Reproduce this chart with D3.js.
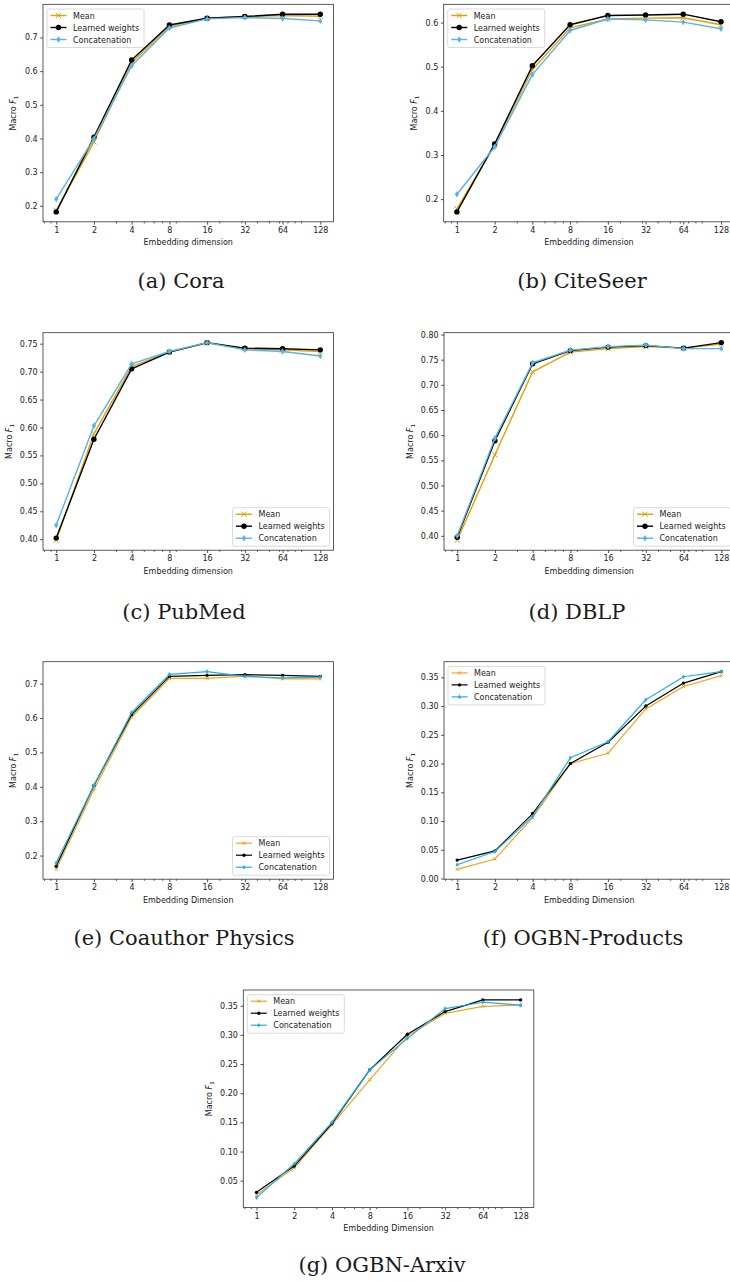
<!DOCTYPE html>
<html>
<head>
<meta charset="utf-8">
<script src="https://cdn.jsdelivr.net/npm/d3@7"></script>
<style>
  body { margin: 0; background: #fff; }
  svg { display: block; }
  .tick text { font-family: "DejaVu Sans", sans-serif; font-size: 8px; fill: #222; }
  .tick line { stroke: #222; stroke-width: 0.8; }
  .lbl { font-family: "DejaVu Sans", sans-serif; font-size: 8px; fill: #222; }
  .cap { font-family: "DejaVu Serif", serif; font-size: 21px; fill: #1a1a1a; }
</style>
</head>
<body>
<div id="fig"></div>
<script>
const WIDTH = 730;
const HEIGHT = 1281;

// embedding dimensions (x)
const DIMS = [1, 2, 4, 8, 16, 32, 64, 128];
const MINOR_TICKS = [0.8, 0.9, 3, 5, 6, 7, 9, 20, 30, 40, 50, 60, 70, 80, 90];

// (a) Cora
const coraMean    = [0.186, 0.390, 0.625, 0.733, 0.757, 0.762, 0.765, 0.763];
const coraLearned = [0.182, 0.404, 0.633, 0.737, 0.757, 0.762, 0.769, 0.769];
const coraConcat  = [0.220, 0.399, 0.616, 0.728, 0.755, 0.759, 0.756, 0.749];
const coraTicks   = [0.2, 0.3, 0.4, 0.5, 0.6, 0.7];

// (b) CiteSeer
const citeMean    = [0.178, 0.322, 0.493, 0.588, 0.608, 0.610, 0.611, 0.595];
const citeLearned = [0.171, 0.325, 0.502, 0.595, 0.616, 0.617, 0.619, 0.602];
const citeConcat  = [0.211, 0.318, 0.482, 0.582, 0.608, 0.606, 0.601, 0.586];
const citeTicks   = [0.2, 0.3, 0.4, 0.5, 0.6];

// (c) PubMed
const pubMean     = [0.398, 0.589, 0.709, 0.735, 0.751, 0.741, 0.739, 0.736];
const pubLearned  = [0.402, 0.579, 0.705, 0.735, 0.752, 0.742, 0.741, 0.739];
const pubConcat   = [0.425, 0.603, 0.714, 0.736, 0.752, 0.739, 0.736, 0.728];
const pubTicks    = [0.40, 0.45, 0.50, 0.55, 0.60, 0.65, 0.70, 0.75];

// (d) DBLP
const dblpMean    = [0.391, 0.561, 0.726, 0.765, 0.772, 0.776, 0.773, 0.781];
const dblpLearned = [0.397, 0.589, 0.742, 0.768, 0.775, 0.778, 0.773, 0.784];
const dblpConcat  = [0.400, 0.594, 0.744, 0.769, 0.776, 0.779, 0.772, 0.772];
const dblpTicks   = [0.40, 0.45, 0.50, 0.55, 0.60, 0.65, 0.70, 0.75, 0.80];

// (e) Coauthor Physics
const physMean    = [0.160, 0.392, 0.603, 0.715, 0.715, 0.722, 0.714, 0.714];
const physLearned = [0.169, 0.404, 0.610, 0.721, 0.724, 0.726, 0.724, 0.721];
const physConcat  = [0.179, 0.404, 0.616, 0.727, 0.735, 0.721, 0.717, 0.719];
const physTicks   = [0.2, 0.3, 0.4, 0.5, 0.6, 0.7];

// (f) OGBN-Products
const prodMean    = [0.016, 0.034, 0.106, 0.200, 0.218, 0.295, 0.334, 0.353];
const prodLearned = [0.032, 0.048, 0.113, 0.200, 0.237, 0.300, 0.340, 0.360];
const prodConcat  = [0.024, 0.047, 0.108, 0.210, 0.238, 0.311, 0.351, 0.360];
const prodTicks   = [0.00, 0.05, 0.10, 0.15, 0.20, 0.25, 0.30, 0.35];

// (g) OGBN-Arxiv
const arxMean     = [0.026, 0.072, 0.146, 0.223, 0.298, 0.337, 0.349, 0.351];
const arxLearned  = [0.030, 0.075, 0.148, 0.240, 0.301, 0.340, 0.360, 0.360];
const arxConcat   = [0.021, 0.079, 0.150, 0.240, 0.294, 0.345, 0.356, 0.351];
const arxTicks    = [0.05, 0.10, 0.15, 0.20, 0.25, 0.30, 0.35];

const SERIES_NAMES = ["Mean", "Learned weights", "Concatenation"];

const AX_W = 290.5;
const AX_H = 217.5;

const PANELS = [
  {cap: "(a) Cora", mean: coraMean, learned: coraLearned, concat: coraConcat, ticks: coraTicks, fmt: ".1f",
   left: 43, top: 4.3, legend: "ul", small: false, xlab: "Embedding dimension", capX: 181, capY: 288},
  {cap: "(b) CiteSeer", mean: citeMean, learned: citeLearned, concat: citeConcat, ticks: citeTicks, fmt: ".1f",
   left: 443.7, top: 4.3, legend: "ul", small: false, xlab: "Embedding dimension", capX: 582, capY: 288},
  {cap: "(c) PubMed", mean: pubMean, learned: pubLearned, concat: pubConcat, ticks: pubTicks, fmt: ".2f",
   left: 43, top: 332.7, legend: "lr", small: false, xlab: "Embedding dimension", capX: 184, capY: 619},
  {cap: "(d) DBLP", mean: dblpMean, learned: dblpLearned, concat: dblpConcat, ticks: dblpTicks, fmt: ".2f",
   left: 444, top: 332.7, legend: "lr", small: false, xlab: "Embedding dimension", capX: 577, capY: 619},
  {cap: "(e) Coauthor Physics", mean: physMean, learned: physLearned, concat: physConcat, ticks: physTicks, fmt: ".1f",
   left: 43, top: 661.7, legend: "lr", small: true, xlab: "Embedding Dimension", capX: 184, capY: 945},
  {cap: "(f) OGBN-Products", mean: prodMean, learned: prodLearned, concat: prodConcat, ticks: prodTicks, fmt: ".2f",
   left: 444, top: 661.7, legend: "ul", small: true, xlab: "Embedding Dimension", capX: 583, capY: 945},
  {cap: "(g) OGBN-Arxiv", mean: arxMean, learned: arxLearned, concat: arxConcat, ticks: arxTicks, fmt: ".2f",
   left: 243.3, top: 990, legend: "ul", small: true, xlab: "Embedding Dimension", capX: 382, capY: 1272}
];

const svg = d3.select("#fig").append("svg")
  .attr("width", WIDTH)
  .attr("height", HEIGHT);

function drawMarker(g, kind, x, y, color, small) {
  if (kind === "x") {
    const s = small ? 1.6 : 2.6;
    g.append("path")
      .attr("d", `M${x - s},${y - s}L${x + s},${y + s}M${x - s},${y + s}L${x + s},${y - s}`)
      .attr("stroke", color).attr("stroke-width", 1).attr("fill", "none");
  } else if (kind === "o") {
    g.append("circle").attr("cx", x).attr("cy", y).attr("r", small ? 1.7 : 2.7)
      .attr("fill", color);
  } else {
    const h = small ? 2.3 : 3.2, w = small ? 1.6 : 2.1;
    g.append("path")
      .attr("d", `M${x},${y - h}L${x + w},${y}L${x},${y + h}L${x - w},${y}Z`)
      .attr("fill", color);
  }
}

function drawPanel(p) {
  const g = svg.append("g").attr("transform", `translate(${p.left},${p.top})`);

  const all = p.mean.concat(p.learned, p.concat);
  const lo = d3.min(all), hi = d3.max(all);
  const pad = (hi - lo) * 0.05;

  const x = d3.scaleLog().base(2)
    .domain([Math.pow(2, -0.35), Math.pow(2, 7.35)])
    .range([0, AX_W]);
  const y = d3.scaleLinear()
    .domain([lo - pad, hi + pad])
    .range([AX_H, 0]);

  const orange = p.small ? "#F5A31A" : "#E69F00";
  const blue = p.small ? "#22AEE6" : "#56B4E9";
  const lw = p.small ? 1.2 : 1.4;
  const series = [
    {vals: p.mean, color: orange, m: "x"},
    {vals: p.learned, color: "#000", m: "o"},
    {vals: p.concat, color: blue, m: "d"}
  ];

  // x axis, major and minor ticks
  g.append("g")
    .attr("transform", `translate(0,${AX_H})`)
    .call(d3.axisBottom(x).tickValues(DIMS).tickFormat(d3.format("d")).tickSize(2.8).tickPadding(2.6))
    .call(a => a.select(".domain").remove());
  g.append("g")
    .attr("transform", `translate(0,${AX_H})`)
    .call(d3.axisBottom(x).tickValues(MINOR_TICKS).tickFormat("").tickSize(1.6))
    .call(a => a.select(".domain").remove())
    .call(a => a.selectAll("line").attr("stroke-width", 0.6));

  // y axis
  g.append("g")
    .call(d3.axisLeft(y).tickValues(p.ticks).tickFormat(d3.format(p.fmt)).tickSize(2.8).tickPadding(2.6))
    .call(a => a.select(".domain").remove());

  // lines + markers
  const line = d3.line().x((d, i) => x(DIMS[i])).y(d => y(d));
  series.forEach(s => {
    g.append("path").datum(s.vals)
      .attr("d", line)
      .attr("fill", "none")
      .attr("stroke", s.color)
      .attr("stroke-width", lw)
      .attr("stroke-linejoin", "round");
    s.vals.forEach((v, i) => drawMarker(g, s.m, x(DIMS[i]), y(v), s.color, p.small));
  });

  // frame
  g.append("rect")
    .attr("width", AX_W).attr("height", AX_H)
    .attr("fill", "none").attr("stroke", "#333").attr("stroke-width", 0.8);

  // axis labels
  g.append("text").attr("class", "lbl")
    .attr("x", AX_W / 2).attr("y", AX_H + 23.5)
    .attr("text-anchor", "middle")
    .text(p.xlab);

  const yOff = p.fmt === ".2f" ? 31 : 27;
  const yl = g.append("text").attr("class", "lbl")
    .attr("transform", `translate(${-yOff},${AX_H / 2}) rotate(-90)`)
    .attr("text-anchor", "middle");
  yl.append("tspan").text("Macro ");
  yl.append("tspan").attr("font-style", "italic").text("F");
  yl.append("tspan").attr("font-size", "5.6px").attr("dy", 1.8).text("1");

  // legend
  const LW = 97, LH = 38.5;
  const lx = p.legend === "ul" ? 4 : AX_W - 4 - LW;
  const ly = p.legend === "ul" ? 4.7 : AX_H - 4 - LH;
  const leg = g.append("g").attr("transform", `translate(${lx},${ly})`);
  leg.append("rect")
    .attr("width", LW).attr("height", LH).attr("rx", 2)
    .attr("fill", "#fff").attr("fill-opacity", 0.8)
    .attr("stroke", "#d0d0d0").attr("stroke-width", 0.8);
  series.forEach((s, i) => {
    const ry = 6.5 + i * 12;
    leg.append("line")
      .attr("x1", 3.5).attr("x2", 19.5).attr("y1", ry).attr("y2", ry)
      .attr("stroke", s.color).attr("stroke-width", lw);
    drawMarker(leg, s.m, 11.5, ry, s.color, p.small);
    leg.append("text").attr("class", "lbl")
      .attr("x", 26).attr("y", ry + 3)
      .text(SERIES_NAMES[i]);
  });

  // caption
  svg.append("text").attr("class", "cap")
    .attr("x", p.capX).attr("y", p.capY)
    .attr("text-anchor", "middle")
    .text(p.cap);
}

PANELS.forEach(drawPanel);
</script>
</body>
</html>
